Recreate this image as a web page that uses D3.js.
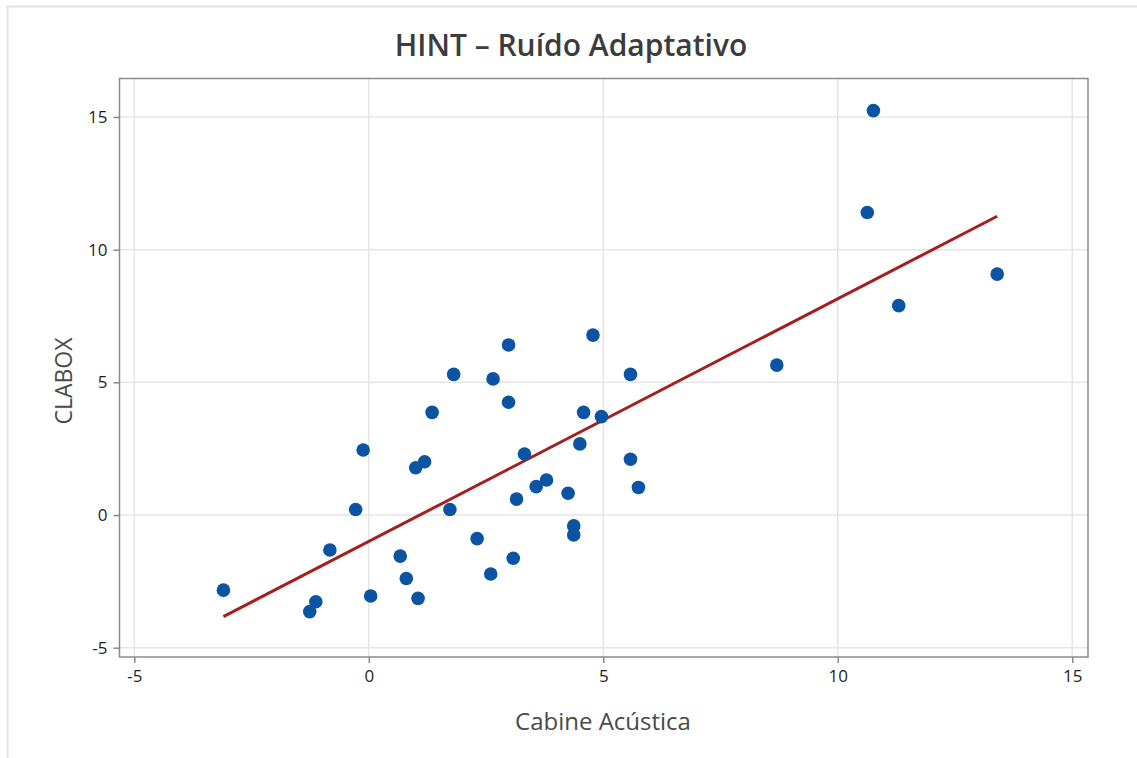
<!DOCTYPE html>
<html>
<head>
<meta charset="utf-8">
<script src="https://cdn.jsdelivr.net/npm/d3@7"></script>
<style>
  html, body { margin: 0; padding: 0; background: #fff; }
  svg { display: block; }
</style>
</head>
<body>
<svg id="chart" width="1137" height="758"></svg>
<script>
// HINT – adaptive noise: booth (Cabine Acústica) vs CLABOX
const cabine = [-3.10, -1.26, -1.13, -0.83, -0.28, -0.12, 0.04, 0.67, 0.80, 1.05,
                1.00, 1.19, 1.73, 1.35, 1.81, 2.98, 2.65, 2.98, 2.31, 3.08,
                2.60, 3.15, 3.32, 3.57, 3.79, 4.25, 4.50, 4.58, 4.96, 4.78,
                4.37, 4.37, 5.58, 5.58, 5.75, 10.76, 10.63, 11.30, 13.40, 8.70];
const clabox = [-2.83, -3.64, -3.27, -1.32, 0.21, 2.45, -3.05, -1.55, -2.39, -3.14,
                1.78, 2.01, 0.21, 3.87, 5.30, 6.41, 5.13, 4.25, -0.89, -1.63,
                -2.22, 0.60, 2.30, 1.07, 1.32, 0.82, 2.68, 3.87, 3.71, 6.78,
                -0.41, -0.75, 5.30, 2.10, 1.04, 15.24, 11.40, 7.89, 9.08, 5.65];
const xTicks = [-5, 0, 5, 10, 15];
const yTicks = [-5, 0, 5, 10, 15];
const titleText = "HINT – Ruído Adaptativo";
const xLabel = "Cabine Acústica";
const yLabel = "CLABOX";

const svg = d3.select("#chart");
const font = "'Open Sans', 'Noto Sans', sans-serif";

// outer frame (top and left edges)
svg.append("path")
  .attr("d", "M7.5,758 V6.5 H1137")
  .attr("fill", "none").attr("stroke", "#e3e3e3").attr("stroke-width", 2);

const box = { left: 119.5, right: 1088, top: 78.5, bottom: 657 };

const x = d3.scaleLinear().domain([-5.316, 15.336]).range([box.left, box.right]);
const y = d3.scaleLinear().domain([-5.35, 16.45]).range([box.bottom, box.top]);

// gridlines
const grid = svg.append("g");
grid.selectAll(".gx").data(xTicks).join("line")
  .attr("x1", d => x(d)).attr("x2", d => x(d))
  .attr("y1", box.top).attr("y2", box.bottom)
  .attr("stroke", "#e6e6e6").attr("stroke-width", 1.5);
grid.selectAll(".gy").data(yTicks).join("line")
  .attr("y1", d => y(d)).attr("y2", d => y(d))
  .attr("x1", box.left).attr("x2", box.right)
  .attr("stroke", "#e6e6e6").attr("stroke-width", 1.5);

// plot frame
svg.append("rect")
  .attr("x", box.left).attr("y", box.top)
  .attr("width", box.right - box.left).attr("height", box.bottom - box.top)
  .attr("fill", "none").attr("stroke", "#8a8a8a").attr("stroke-width", 1.5);

// axes
const xAxis = svg.append("g").attr("transform", `translate(0,${box.bottom})`)
  .call(d3.axisBottom(x).tickValues(xTicks).tickSize(6).tickPadding(7).tickFormat(d3.format("d")));
const yAxis = svg.append("g").attr("transform", `translate(${box.left},0)`)
  .call(d3.axisLeft(y).tickValues(yTicks).tickSize(6).tickPadding(6).tickFormat(d3.format("d")));
[xAxis, yAxis].forEach(g => {
  g.select(".domain").remove();
  g.selectAll(".tick line").attr("stroke", "#8a8a8a").attr("stroke-width", 1.5);
  g.selectAll(".tick text").attr("fill", "#1e1e1e").style("font-family", font).style("font-size", "17px")
    .text(d => d < 0 ? "-" + Math.abs(d) : d);
});

// least-squares fit line over the data range
const n = cabine.length;
const mx = d3.mean(cabine), my = d3.mean(clabox);
let sxy = 0, sxx = 0;
for (let i = 0; i < n; i++) { sxy += (cabine[i] - mx) * (clabox[i] - my); sxx += (cabine[i] - mx) ** 2; }
const slope = sxy / sxx, intercept = my - slope * mx;
const ext = d3.extent(cabine);
svg.append("line")
  .attr("x1", x(ext[0])).attr("y1", y(intercept + slope * ext[0]))
  .attr("x2", x(ext[1])).attr("y2", y(intercept + slope * ext[1]))
  .attr("stroke", "#a3201f").attr("stroke-width", 3);

// points
svg.append("g").selectAll("circle").data(d3.range(n)).join("circle")
  .attr("cx", i => x(cabine[i])).attr("cy", i => y(clabox[i]))
  .attr("r", 6.8).attr("fill", "#0b54a4");

// titles
svg.append("text").attr("x", 571).attr("y", 56).attr("text-anchor", "middle")
  .style("font-family", font).style("font-size", "30px").style("font-weight", 600)
  .attr("fill", "#3c3c3c").text(titleText);
svg.append("text").attr("x", 603).attr("y", 730).attr("text-anchor", "middle")
  .style("font-family", font).style("font-size", "24px")
  .attr("fill", "#4a4a4a").text(xLabel);
svg.append("text").attr("transform", `translate(72,381) rotate(-90)`)
  .attr("text-anchor", "middle")
  .style("font-family", font).style("font-size", "23px")
  .attr("fill", "#4a4a4a").text(yLabel);
</script>
</body>
</html>
